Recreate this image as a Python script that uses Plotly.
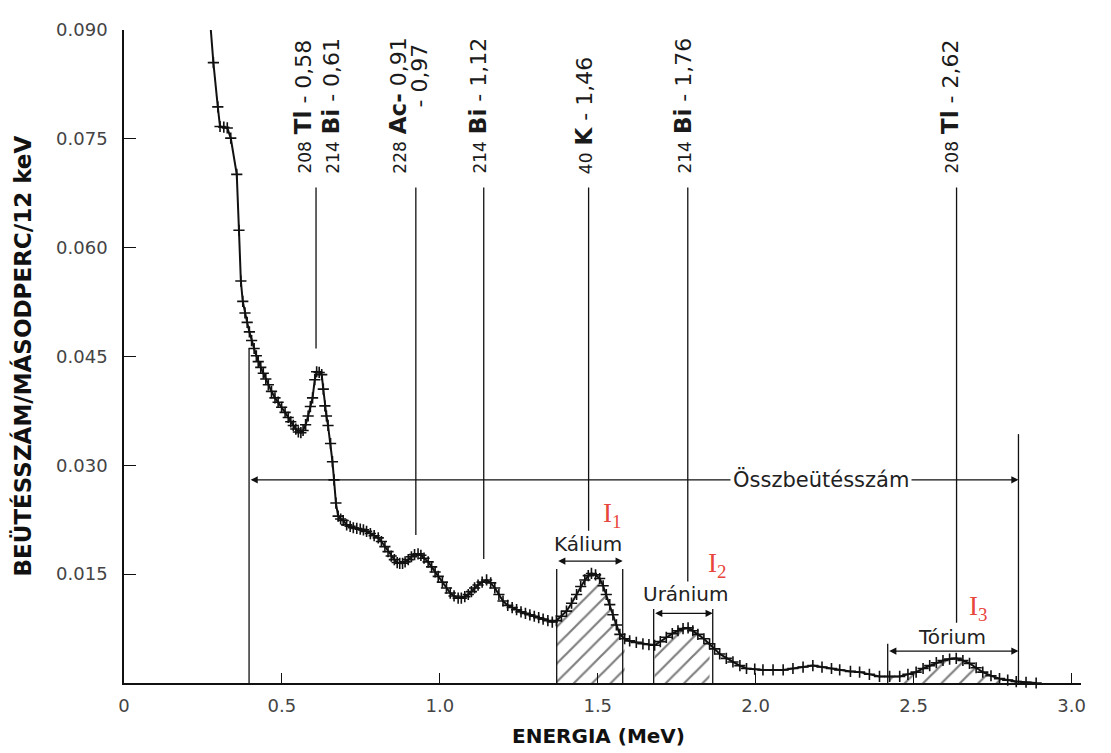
import numpy as np
import plotly.graph_objects as go

# ---------------- data ----------------
energy_mev = [
    0.274, 0.283, 0.297, 0.304, 0.316, 0.327, 0.338, 0.357, 0.364, 0.370,
    0.376, 0.383, 0.390, 0.397, 0.404, 0.412, 0.419, 0.425, 0.433, 0.441,
    0.449, 0.457, 0.467, 0.478, 0.488, 0.499, 0.510, 0.520, 0.528, 0.536,
    0.544, 0.552, 0.560, 0.567, 0.575, 0.583, 0.590, 0.597, 0.604, 0.610,
    0.618, 0.626, 0.631, 0.636, 0.641, 0.646, 0.654, 0.660, 0.665, 0.671,
    0.678, 0.686, 0.694, 0.705, 0.716, 0.726, 0.737, 0.748, 0.758, 0.768,
    0.780, 0.792, 0.805, 0.815, 0.826, 0.836, 0.846, 0.856, 0.865, 0.873,
    0.882, 0.890, 0.900, 0.910, 0.920, 0.931, 0.940, 0.950, 0.963, 0.974,
    0.985, 0.995, 1.008, 1.021, 1.033, 1.045, 1.058, 1.068, 1.079, 1.090,
    1.100, 1.110, 1.121, 1.134, 1.148, 1.161, 1.174, 1.187, 1.200, 1.215,
    1.229, 1.243, 1.257, 1.271, 1.285, 1.299, 1.313, 1.327, 1.342, 1.356,
    1.369, 1.385, 1.401, 1.417, 1.433, 1.446, 1.459, 1.470, 1.480, 1.493,
    1.506, 1.517, 1.527, 1.538, 1.548, 1.559, 1.570, 1.585, 1.601, 1.622,
    1.643, 1.662, 1.680, 1.698, 1.717, 1.736, 1.754, 1.770, 1.786, 1.801,
    1.817, 1.836, 1.854, 1.870, 1.886, 1.907, 1.928, 1.950, 1.971, 1.997,
    2.023, 2.055, 2.087, 2.118, 2.150, 2.181, 2.210, 2.240, 2.266, 2.300,
    2.329, 2.360, 2.392, 2.424, 2.456, 2.482, 2.508, 2.530, 2.551, 2.572,
    2.593, 2.614, 2.635, 2.656, 2.677, 2.698, 2.719, 2.745, 2.772, 2.798,
    2.825, 2.856, 2.888,
]
counts_per_s = [
    0.0905, 0.0855, 0.0794, 0.0767, 0.0766, 0.0765, 0.0751, 0.0701, 0.0624, 0.0554,
    0.0526, 0.0510, 0.0497, 0.0484, 0.0472, 0.0461, 0.0451, 0.0443, 0.0435, 0.0427,
    0.0419, 0.0411, 0.0402, 0.0393, 0.0387, 0.0380, 0.0373, 0.0366, 0.0360, 0.0355,
    0.0350, 0.0346, 0.0345, 0.0348, 0.0356, 0.0368, 0.0381, 0.0393, 0.0418, 0.0429,
    0.0428, 0.0425, 0.0405, 0.0382, 0.0368, 0.0355, 0.0330, 0.0305, 0.0280, 0.0248,
    0.0230, 0.0226, 0.0224, 0.0218, 0.0216, 0.0214, 0.0213, 0.0212, 0.0211, 0.0209,
    0.0206, 0.0203, 0.0200, 0.0195, 0.0188, 0.0181, 0.0175, 0.0170, 0.0166, 0.0165,
    0.0165, 0.0167, 0.0170, 0.0174, 0.0177, 0.0178, 0.0176, 0.0172, 0.0167, 0.0160,
    0.0153, 0.0147, 0.0139, 0.0131, 0.0124, 0.0120, 0.0117, 0.0117, 0.0119, 0.0122,
    0.0126, 0.0131, 0.0135, 0.0139, 0.0142, 0.0138, 0.0131, 0.0122, 0.0113, 0.0107,
    0.0104, 0.0101, 0.0098, 0.0096, 0.0094, 0.0092, 0.0090, 0.0088, 0.0086, 0.0084,
    0.0086, 0.0092, 0.0099, 0.0110, 0.0122, 0.0133, 0.0142, 0.0148, 0.0151, 0.0149,
    0.0144, 0.0134, 0.0122, 0.0108, 0.0094, 0.0080, 0.0067, 0.0061, 0.0058, 0.0056,
    0.0054, 0.0053, 0.0052, 0.0057, 0.0063, 0.0068, 0.0072, 0.0075, 0.0076, 0.0072,
    0.0067, 0.0061, 0.0054, 0.0047, 0.0040, 0.0034, 0.0029, 0.0024, 0.0020, 0.0019,
    0.0018, 0.0018, 0.0018, 0.0020, 0.0022, 0.0024, 0.0022, 0.0020, 0.0018, 0.0016,
    0.0015, 0.0012, 0.0009, 0.0009, 0.0009, 0.0012, 0.0015, 0.0020, 0.0024, 0.0028,
    0.0031, 0.0033, 0.0034, 0.0031, 0.0027, 0.0021, 0.0015, 0.0010, 0.0006, 0.0004,
    0.0002, 0.0001, 0.0000,
]

x_tick_values = [0, 0.5, 1.0, 1.5, 2.0, 2.5, 3.0]
x_tick_labels = ["0", "0.5", "1.0", "1.5", "2.0", "2.5", "3.0"]
y_tick_values = [0.015, 0.030, 0.045, 0.060, 0.075, 0.090]
y_tick_labels = ["0.015", "0.030", "0.045", "0.060", "0.075", "0.090"]

# peak identification labels
label_mass = ["208", "214", "228", "214", "40", "214", "208"]
label_element = ["Tl", "Bi", "Ac-", "Bi", "K", "Bi", "Tl"]
label_energy = [" - 0,58", " - 0,61", " 0,91", " - 1,12", " - 1,46", " - 1,76", " - 2,62"]
label_energy_x = [0.566, 0.655, 0.867, 1.120, 1.459, 1.769, 2.614]
extra_label = "- 0,97"
extra_label_x = 0.937

# peak marker lines
peak_line_x = [0.608, 0.924, 1.139, 1.471, 1.785, 2.636]
peak_line_bottom = [0.0461, 0.0204, 0.0171, 0.0210, 0.0140, 0.0083]
peak_line_top = 0.0683

# energy windows
window_names = ["Kálium", "Uránium", "Tórium"]
window_lo = [1.370, 1.677, 2.418]
window_hi = [1.579, 1.864, 2.832]
window_top = [0.0157, 0.0102, 0.0054]
window_arrow_y = [0.0168, 0.0096, 0.0044]
window_name_y = [0.0191, 0.0122, 0.0064]
window_name_x = [1.468, 1.778, 2.623]
hatch_lo = [1.365, 1.675, 2.42]
hatch_hi = [1.585, 1.860, 2.83]
intensity_labels = ["I<sub>1</sub>", "I<sub>2</sub>", "I<sub>3</sub>"]
intensity_x = [1.544, 1.877, 2.703]
intensity_y = [0.0231, 0.0163, 0.0104]

total_lo, total_hi = 0.396, 2.832
total_lo_top, total_hi_top = 0.0461, 0.0343
total_arrow_y = 0.0280
total_label = "Összbeütésszám"
total_label_x = 2.206

FONT = "DejaVu Sans"
INK = "#111111"

# page pixel geometry of the plot area (page has an 8px body margin)
PAGE_OFF = 8
PLOT_L, PLOT_R, PLOT_T, PLOT_B = 124, 1081, 19, 683
FIG_W, FIG_H = 1095, 744

fig = go.Figure()

E = np.array(energy_mev)
C = np.array(counts_per_s)
for lo, hi in zip(hatch_lo, hatch_hi):
    m = (E >= lo) & (E <= hi)
    fig.add_trace(go.Scatter(
        x=E[m], y=C[m], mode="lines", line=dict(width=0, color=INK),
        fill="tozeroy",
        fillpattern=dict(shape="/", fgcolor="#000000", bgcolor="white",
                         size=13, solidity=0.17),
        hoverinfo="skip", showlegend=False))

fig.add_trace(go.Scatter(
    x=energy_mev, y=counts_per_s, mode="lines+markers",
    line=dict(color=INK, width=2),
    marker=dict(symbol="cross-thin", size=8, line=dict(width=1.6, color=INK)),
    cliponaxis=False, showlegend=False))

shapes = []
def vline(x, y0, y1, w=1.3):
    shapes.append(dict(type="line", xref="x", yref="y", x0=x, x1=x, y0=y0, y1=y1,
                       line=dict(color=INK, width=w)))

for x, b in zip(peak_line_x, peak_line_bottom):
    vline(x, b, peak_line_top)
for lo, hi, top in zip(window_lo, window_hi, window_top):
    vline(lo, 0, top)
    if hi != total_hi:
        vline(hi, 0, top)
vline(total_lo, 0, total_lo_top)
vline(total_hi, 0, total_hi_top)

annotations = []
def darrow(x0, x1, y):
    annotations.append(dict(x=x1, y=y, ax=x0, ay=y, xref="x", yref="y",
                            axref="x", ayref="y", text="", showarrow=True,
                            arrowhead=2, startarrowhead=2, arrowside="end+start",
                            arrowsize=1.1, startarrowsize=1.1, arrowwidth=1.3,
                            arrowcolor=INK, standoff=0, startstandoff=0))

darrow(total_lo, total_hi, total_arrow_y)
for lo, hi, y in zip(window_lo, window_hi, window_arrow_y):
    darrow(lo, hi, y)

annotations.append(dict(x=total_label_x, y=total_arrow_y, xref="x", yref="y",
                        text=total_label, showarrow=False, bgcolor="white",
                        borderpad=2, font=dict(family=FONT, size=21, color="#222")))

for name, x, y in zip(window_names, window_name_x, window_name_y):
    annotations.append(dict(x=x, y=y, xref="x", yref="y", text=name, showarrow=False,
                            font=dict(family=FONT, size=20, color="#222")))

for t, x, y in zip(intensity_labels, intensity_x, intensity_y):
    annotations.append(dict(x=x, y=y, xref="x", yref="y", text=t, showarrow=False,
                            font=dict(family="Liberation Serif", size=27, color="#e8453c")))

for mass, el, en, x in zip(label_mass, label_element, label_energy, label_energy_x):
    txt = (f"<span style='font-size:17px'>{mass}</span> "
           f"<b><span style='font-size:23px'>{el}</span></b>"
           f"<span style='font-size:22px'>{en}</span>")
    annotations.append(dict(x=x, y=0.0699, xref="x", yref="y", text=txt,
                            textangle=-90, showarrow=False, xanchor="center",
                            yanchor="bottom",
                            font=dict(family=FONT, size=22, color="#1a1a1a")))
annotations.append(dict(x=extra_label_x, y=0.0884, xref="x", yref="y", text=extra_label,
                        textangle=-90, showarrow=False, xanchor="center", yanchor="top",
                        font=dict(family=FONT, size=22, color="#1a1a1a")))

pw = PLOT_R - PLOT_L
ph = PLOT_B - PLOT_T
annotations.append(dict(x=(22 - PLOT_L) / pw, y=0.5, xref="paper", yref="paper",
                        xanchor="center", yanchor="middle",
                        text="<b>BEÜTÉSSZÁM/MÁSODPERC/12 keV</b>", textangle=-90,
                        showarrow=False, font=dict(family=FONT, size=23, color=INK)))
annotations.append(dict(x=(598 - PLOT_L) / pw, y=(PLOT_B - 737) / ph, xref="paper", yref="paper",
                        xanchor="center", yanchor="middle",
                        text="<b>ENERGIA (MeV)</b>", showarrow=False,
                        font=dict(family=FONT, size=20, color=INK)))

fig.update_layout(
    width=FIG_W, height=FIG_H,
    margin=dict(l=PLOT_L - PAGE_OFF, r=PAGE_OFF + FIG_W - PLOT_R,
                t=PLOT_T - PAGE_OFF, b=PAGE_OFF + FIG_H - PLOT_B, pad=0),
    paper_bgcolor="white", plot_bgcolor="white",
    shapes=shapes, annotations=annotations, showlegend=False,
    xaxis=dict(range=[0, 3.03], showline=True, linecolor=INK, linewidth=1.5,
               ticks="inside", ticklen=10, tickwidth=1.3, tickcolor=INK,
               tickvals=x_tick_values, ticktext=x_tick_labels,
               tickfont=dict(family=FONT, size=18, color="#444"),
               ticklabelstandoff=6, showgrid=False, zeroline=False),
    yaxis=dict(range=[0, 0.090], showline=True, linecolor=INK, linewidth=1.5,
               ticks="inside", ticklen=12, tickwidth=1.3, tickcolor=INK,
               tickvals=y_tick_values, ticktext=y_tick_labels,
               tickfont=dict(family=FONT, size=18, color="#444"),
               ticklabelstandoff=11, showgrid=False, zeroline=False),
)

fig.write_html("out.html")
